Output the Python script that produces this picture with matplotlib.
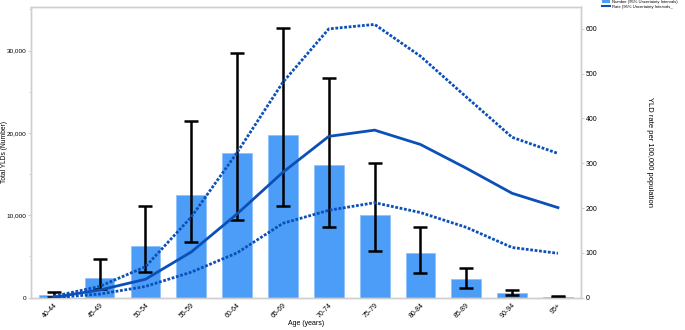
import numpy as np
import matplotlib
matplotlib.use('Agg')
from matplotlib import pyplot as plt
from matplotlib.patches import Patch
from matplotlib.lines import Line2D
from matplotlib.ticker import FuncFormatter, MultipleLocator

plt.rcParams['font.family'] = ['Liberation Sans', 'DejaVu Sans']

# data
ages = ['40-44', '45-49', '50-54', '55-59', '60-64', '65-69',
        '70-74', '75-79', '80-84', '85-89', '90-94', '95+']
ylds = [290, 2390, 6280, 12500, 17580, 19770, 16130, 10050, 5390, 2270, 570, 100]
ylds_low = [80, 1020, 3120, 6730, 9440, 11180, 8630, 5710, 3000, 1220, 290, 40]
ylds_high = [690, 4740, 11180, 21470, 29730, 32770, 26700, 16400, 8550, 3600, 940, 240]

rate = [1, 17, 41, 102, 187, 280, 360, 374, 342, 289, 233, 201]
rate_low = [0, 8, 25, 57, 100, 166, 195, 212, 190, 157, 112, 99]
rate_high = [3, 25, 69, 180, 324, 481, 600, 610, 539, 448, 358, 322]

bar_color = '#4c9df7'
line_color = '#0b50b8'
grey = '#cfcfcf'

fig = plt.figure(figsize=(6.85, 3.3), dpi=100)
ax = fig.add_axes([0.045, 0.098, 0.803, 0.881])

x = np.arange(len(ages))
ylds = np.array(ylds)
yerr = [ylds - np.array(ylds_low), np.array(ylds_high) - ylds]

ax.bar(x, ylds, width=0.65, color=bar_color, edgecolor='#8fc2fa', linewidth=0.6, zorder=2)
ax.errorbar(x, ylds, yerr=yerr, fmt='none', ecolor='black', elinewidth=1.8,
            capsize=5, capthick=1.8, zorder=4)

ax.set_xlim(-0.5, len(ages) - 0.5)
ax.set_ylim(0, 35300)
ax.yaxis.set_major_locator(MultipleLocator(10000))
ax.yaxis.set_minor_locator(MultipleLocator(5000))
ax.yaxis.set_major_formatter(FuncFormatter(lambda v, p: f'{int(v):,}'))
ax.set_xticks(x)
ax.set_xticklabels(ages, rotation=45, ha='right', rotation_mode='anchor', fontsize=5)
ax.tick_params(axis='y', labelsize=4.6, length=2.5, color=grey, pad=0.8)
ax.tick_params(axis='y', which='minor', length=1.5, color=grey)
ax.tick_params(axis='x', length=0, pad=3)
ax.set_ylabel('Total YLDs (Number)', fontsize=4.8)
ax.yaxis.set_label_coords(-0.0415, 0.5)
ax.set_xlabel('Age (years)', fontsize=5, labelpad=0)

ax2 = ax.twinx()
ax2.plot(x, rate, color=line_color, lw=2, zorder=3)
ax2.plot(x, rate_low, color=line_color, lw=2, ls=(0, (1, 0.6)), zorder=3)
ax2.plot(x, rate_high, color=line_color, lw=2, ls=(0, (1, 0.6)), zorder=3)
ax2.set_ylim(0, 649)
ax2.yaxis.set_major_locator(MultipleLocator(100))
ax2.tick_params(axis='y', labelsize=5, length=2.5, color=grey, pad=1)
ax2.set_ylabel('YLD rate per 100,000 population', fontsize=5.5, rotation=-90, labelpad=40)

for a in (ax, ax2):
    for s in a.spines.values():
        s.set_color(grey)
        s.set_linewidth(1)

handles = [Patch(facecolor=bar_color, edgecolor='none'),
           Line2D([0], [0], color=line_color, lw=1.5)]
labels = ['Number (95% Uncertainty Intervals)', 'Rate (95% Uncertainty Intervals_']
fig.legend(handles, labels, loc='upper left', bbox_to_anchor=(0.875, 1.012),
           fontsize=3, frameon=False, handlelength=1.8, handleheight=1.3,
           handletextpad=0.5, labelspacing=0.15, borderpad=0.2)

plt.savefig('out.png', dpi=100)
